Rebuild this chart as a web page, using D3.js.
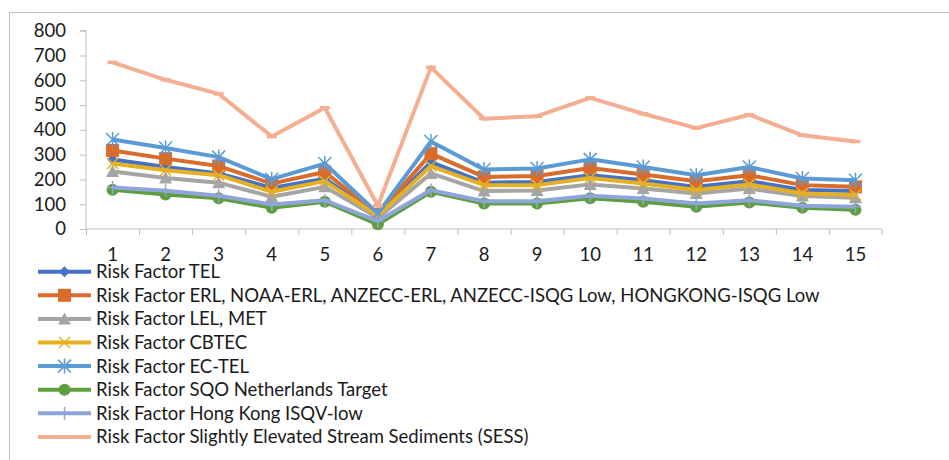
<!DOCTYPE html>
<html>
<head>
<meta charset="utf-8">
<script src="https://cdn.jsdelivr.net/npm/d3@7"></script>
<style>
  body { margin: 0; background: #fff; }
  svg text { font-family: Lato, "Liberation Sans", sans-serif; fill: #1a1a1a; }
</style>
</head>
<body>
<div id="chart"></div>
<script>
// categories along the x axis
var categories = ["1","2","3","4","5","6","7","8","9","10","11","12","13","14","15"];
var yTicks = [0,100,200,300,400,500,600,700,800];

var seriesNames = [
  "Risk Factor TEL",
  "Risk Factor ERL, NOAA-ERL, ANZECC-ERL, ANZECC-ISQG Low, HONGKONG-ISQG Low",
  "Risk Factor LEL, MET",
  "Risk Factor CBTEC",
  "Risk Factor EC-TEL",
  "Risk Factor SQO Netherlands Target",
  "Risk Factor Hong Kong ISQV-low",
  "Risk Factor Slightly Elevated Stream Sediments (SESS)"
];

var tel   = [280,250,224,166,203,56,270,187,190,217,197,170,193,157,153];
var erl   = [317,284,254,183,230,59,304,210,214,246,220,193,217,177,170];
var lel   = [232,206,187,130,170,45,224,153,155,180,163,143,163,133,126];
var cbtec = [264,237,217,150,193,53,254,177,177,206,184,157,180,143,137];
var ectel = [361,327,290,201,264,63,353,240,244,281,250,217,250,204,197];
var sqo   = [158,139,124,86,110,19,150,103,103,124,110,90,107,86,78];
var hk    = [167,154,134,99,116,32,157,112,112,134,123,103,116,94,90];
var sess  = [672,602,545,373,489,94,652,445,455,529,465,407,461,378,353];

var seriesValues = [tel, erl, lel, cbtec, ectel, sqo, hk, sess];
var colors  = ["#4472C4","#D96C2B","#A5A5A5","#E6B024","#5B9BD5","#5E9E3E","#8FA5DA","#F4AE92"];
var markers = ["diamond","square","triangle","x","asterisk","circle","plus","dash"];

var W = 949, H = 460;
var fontSize = "18.5px";
var svg = d3.select("#chart").append("svg").attr("width", W).attr("height", H);

// chart frame
svg.append("rect").attr("x", 9.5).attr("y", 12.5).attr("width", 1000).attr("height", 500)
  .attr("fill", "none").attr("stroke", "#BFBFBF").attr("stroke-width", 1);

var x = d3.scaleBand().domain(categories).range([86, 882]);
var y = d3.scaleLinear().domain([0, 800]).range([229, 30.7]);

// y axis
var yAxis = svg.append("g").attr("transform", "translate(86,0)")
  .call(d3.axisLeft(y).tickValues(yTicks).tickSize(6).tickPadding(14));
yAxis.selectAll("path, line").attr("stroke", "#BFBFBF");
yAxis.select("path").attr("d", "M-6," + y(800) + "H0V" + y(0));
yAxis.selectAll("text").style("font-size", fontSize).attr("fill", "#1a1a1a");

// x axis
var xAxis = svg.append("g").attr("transform", "translate(0,229)")
  .call(d3.axisBottom(x).tickSize(0).tickPadding(19));
xAxis.select("path").attr("stroke", "#BFBFBF").attr("d", "M86,0H882V6");
xAxis.selectAll("text").style("font-size", fontSize).attr("fill", "#1a1a1a");
// category boundary ticks
svg.append("g").selectAll("line").data(categories).enter().append("line")
  .attr("x1", function(d){ return x(d) + 0.5; }).attr("x2", function(d){ return x(d) + 0.5; })
  .attr("y1", 229).attr("y2", 235).attr("stroke", "#BFBFBF");

function drawMarker(g, type, color, cx, cy) {
  if (type == "diamond") {
    g.append("path").attr("d", "M" + cx + "," + (cy-5.5) + "L" + (cx+5.5) + "," + cy + "L" + cx + "," + (cy+5.5) + "L" + (cx-5.5) + "," + cy + "Z").attr("fill", color);
  } else if (type == "square") {
    g.append("rect").attr("x", cx-6.5).attr("y", cy-6.5).attr("width", 13).attr("height", 13).attr("fill", color);
  } else if (type == "triangle") {
    g.append("path").attr("d", "M" + cx + "," + (cy-6.5) + "L" + (cx+6.5) + "," + (cy+5.5) + "L" + (cx-6.5) + "," + (cy+5.5) + "Z").attr("fill", color);
  } else if (type == "x") {
    g.append("path").attr("d", "M" + (cx-5.5) + "," + (cy-5.5) + "L" + (cx+5.5) + "," + (cy+5.5) + "M" + (cx+5.5) + "," + (cy-5.5) + "L" + (cx-5.5) + "," + (cy+5.5))
      .attr("stroke", color).attr("stroke-width", 1.5);
  } else if (type == "asterisk") {
    g.append("path").attr("d", "M" + (cx-6.5) + "," + (cy-6.5) + "L" + (cx+6.5) + "," + (cy+6.5) + "M" + (cx+6.5) + "," + (cy-6.5) + "L" + (cx-6.5) + "," + (cy+6.5) + "M" + cx + "," + (cy-7.5) + "L" + cx + "," + (cy+7.5))
      .attr("stroke", color).attr("stroke-width", 1.5);
  } else if (type == "circle") {
    g.append("circle").attr("cx", cx).attr("cy", cy).attr("r", 6).attr("fill", color);
  } else if (type == "plus") {
    g.append("path").attr("d", "M" + (cx-5.5) + "," + cy + "L" + (cx+5.5) + "," + cy + "M" + cx + "," + (cy-6.5) + "L" + cx + "," + (cy+6.5))
      .attr("stroke", color).attr("stroke-width", 1.5);
  } else if (type == "dash") {
    g.append("path").attr("d", "M" + (cx-5) + "," + cy + "L" + (cx+5) + "," + cy)
      .attr("stroke", color).attr("stroke-width", 3.5);
  }
}

var line = d3.line()
  .x(function(d, i){ return x(categories[i]) + x.bandwidth() / 2; })
  .y(function(d){ return y(d); });

var plot = svg.append("g");
seriesValues.forEach(function(vals, s) {
  var g = plot.append("g");
  g.append("path").datum(vals).attr("d", line)
    .attr("fill", "none").attr("stroke", colors[s]).attr("stroke-width", 4)
    .attr("stroke-linejoin", "round");
  vals.forEach(function(v, i) {
    drawMarker(g, markers[s], colors[s], x(categories[i]) + x.bandwidth() / 2, y(v));
  });
});

// legend
var legend = svg.append("g");
seriesNames.forEach(function(name, s) {
  var ly = 271.7 + s * 23.6;
  var row = legend.append("g");
  row.append("line").attr("x1", 38).attr("x2", 91).attr("y1", ly).attr("y2", ly)
    .attr("stroke", colors[s]).attr("stroke-width", 4);
  drawMarker(row, markers[s], colors[s], 64.5, ly);
  row.append("text").attr("x", 96).attr("y", ly).attr("dy", "0.35em")
    .style("font-size", fontSize).text(name);
});
</script>
</body>
</html>
